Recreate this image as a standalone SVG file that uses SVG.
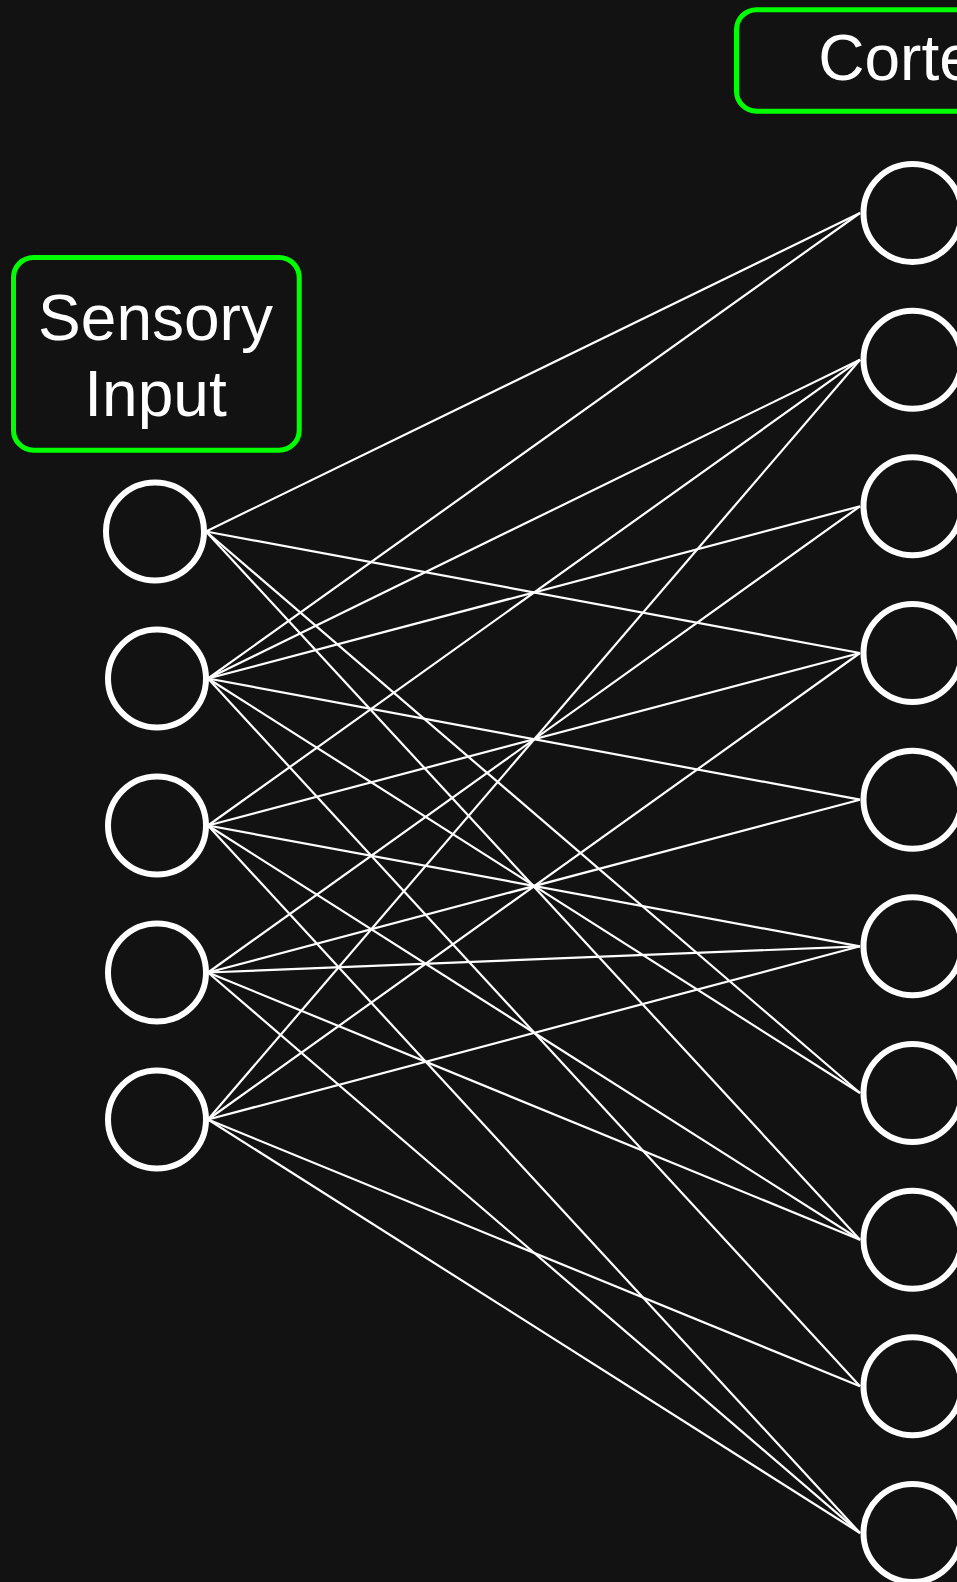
<svg xmlns="http://www.w3.org/2000/svg" width="957" height="1582" viewBox="0 0 957 1582">
<style>
.bg{fill:#121212}
.box{fill:#121212;stroke:#00ff00;stroke-width:5}
.lbl{font-family:"Liberation Sans",Arial,sans-serif;font-size:64px;fill:#ffffff;text-anchor:middle}
.n{fill:#121212;stroke:#ffffff;stroke-width:6}
.e line{stroke:#ffffff;stroke-width:2.2}
</style>
<rect class="bg" x="0" y="0" width="957" height="1582"/>
<g id="connectors" class="e">
<line x1="206" y1="531.5" x2="860" y2="213"/>
<line x1="206" y1="531.5" x2="860" y2="653"/>
<line x1="206" y1="531.5" x2="860" y2="1093"/>
<line x1="206" y1="531.5" x2="860" y2="1239.7"/>
<line x1="208" y1="678.5" x2="860" y2="213"/>
<line x1="208" y1="678.5" x2="860" y2="359.7"/>
<line x1="208" y1="678.5" x2="860" y2="506.3"/>
<line x1="208" y1="678.5" x2="860" y2="799.7"/>
<line x1="208" y1="678.5" x2="860" y2="1093"/>
<line x1="208" y1="678.5" x2="860" y2="1386.3"/>
<line x1="208" y1="825.5" x2="860" y2="359.7"/>
<line x1="208" y1="825.5" x2="860" y2="653"/>
<line x1="208" y1="825.5" x2="860" y2="946.3"/>
<line x1="208" y1="825.5" x2="860" y2="1239.7"/>
<line x1="208" y1="825.5" x2="860" y2="1533"/>
<line x1="208" y1="972.5" x2="860" y2="506.3"/>
<line x1="208" y1="972.5" x2="860" y2="799.7"/>
<line x1="208" y1="972.5" x2="860" y2="946.3"/>
<line x1="208" y1="972.5" x2="860" y2="1239.7"/>
<line x1="208" y1="972.5" x2="860" y2="1533"/>
<line x1="208" y1="1119.5" x2="860" y2="359.7"/>
<line x1="208" y1="1119.5" x2="860" y2="653"/>
<line x1="208" y1="1119.5" x2="860" y2="946.3"/>
<line x1="208" y1="1119.5" x2="860" y2="1386.3"/>
<line x1="208" y1="1119.5" x2="860" y2="1533"/>
</g>
<g id="sensory-label">
<rect class="box" x="13.5" y="257.5" width="285.7" height="192.7" rx="20" ry="20"/>
<text class="lbl" x="155.5" y="340">Sensory</text>
<text class="lbl" x="155.5" y="416">Input</text>
</g>
<g id="cortex-label">
<rect class="box" x="736.5" y="9.7" width="352" height="101.5" rx="20" ry="20"/>
<text class="lbl" x="912.5" y="80">Cortex</text>
</g>
<g id="in1"><circle class="n" cx="155" cy="531.5" r="49"/></g>
<g id="in2"><circle class="n" cx="157" cy="678.5" r="49"/></g>
<g id="in3"><circle class="n" cx="157" cy="825.5" r="49"/></g>
<g id="in4"><circle class="n" cx="157" cy="972.5" r="49"/></g>
<g id="in5"><circle class="n" cx="157" cy="1119.5" r="49"/></g>
<g id="out1"><circle class="n" cx="912.5" cy="213" r="49"/></g>
<g id="out2"><circle class="n" cx="912.5" cy="359.7" r="49"/></g>
<g id="out3"><circle class="n" cx="912.5" cy="506.3" r="49"/></g>
<g id="out4"><circle class="n" cx="912.5" cy="653" r="49"/></g>
<g id="out5"><circle class="n" cx="912.5" cy="799.7" r="49"/></g>
<g id="out6"><circle class="n" cx="912.5" cy="946.3" r="49"/></g>
<g id="out7"><circle class="n" cx="912.5" cy="1093" r="49"/></g>
<g id="out8"><circle class="n" cx="912.5" cy="1239.7" r="49"/></g>
<g id="out9"><circle class="n" cx="912.5" cy="1386.3" r="49"/></g>
<g id="out10"><circle class="n" cx="912.5" cy="1533" r="49"/></g>
</svg>
